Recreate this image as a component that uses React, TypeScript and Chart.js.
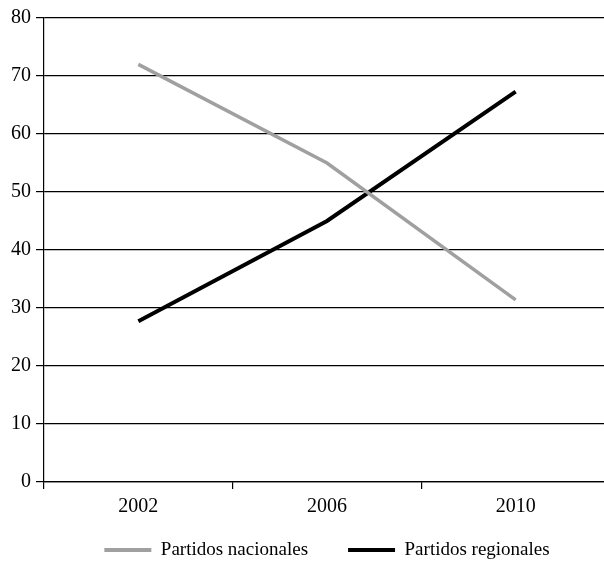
import React, { useEffect, useRef } from "react";
import { Chart, registerables } from "chart.js";

Chart.register(...registerables);

const years = ["2002", "2006", "2010"];
const nacionales = [72, 55, 31.4];
const regionales = [27.7, 45, 67.3];
const yTicks = [0, 10, 20, 30, 40, 50, 60, 70, 80];

const FONT = "'Liberation Serif', 'DejaVu Serif', serif";

// The x axis and the legend are packed tightly; let their text run below
// their layout boxes instead of being clipped.
const looseClip = {
  id: "looseClip",
  afterLayout(chart: any) {
    const lg = chart.legend;
    if (lg) lg.bottom = chart.height;
    const x = chart.scales.x;
    if (x) x.bottom = chart.height;
  },
};

export default function App() {
  const ref = useRef<HTMLCanvasElement | null>(null);

  useEffect(() => {
    const canvas = ref.current;
    if (!canvas) return;
    const chart = new Chart(canvas, {
      type: "line",
      data: {
        labels: years,
        datasets: [
          {
            label: "Partidos nacionales",
            data: nacionales,
            borderColor: "#a0a0a0",
            backgroundColor: "#a0a0a0",
            borderWidth: 3.5,
            pointRadius: 0,
            tension: 0,
          },
          {
            label: "Partidos regionales",
            data: regionales,
            borderColor: "#000000",
            backgroundColor: "#000000",
            borderWidth: 4,
            pointRadius: 0,
            tension: 0,
          },
        ],
      },
      options: {
        animation: false,
        responsive: false,
        devicePixelRatio: 1,
        layout: { padding: { top: 18, left: 0, right: 0, bottom: 10.5 } },
        plugins: {
          tooltip: { enabled: false },
          legend: {
            position: "bottom",
            fullSize: false,
            maxHeight: 50,
            labels: {
              boxWidth: 47,
              boxHeight: 4,
              padding: 40,
              color: "#000",
              font: { family: FONT, size: 19 },
              generateLabels: (c: any) =>
                Chart.defaults.plugins.legend.labels
                  .generateLabels(c)
                  .map((item: any) => ({ ...item, lineWidth: 0 })),
            },
          },
        },
        scales: {
          x: {
            type: "category",
            offset: true,
            afterFit: (scale: any) => {
              scale.height = 18.5;
            },
            grid: {
              offset: true,
              drawOnChartArea: false,
              drawTicks: true,
              tickLength: 7,
              color: "#000",
              lineWidth: 1.2,
            },
            border: { display: true, color: "#000", width: 1.2 },
            ticks: {
              color: "#000",
              padding: 6,
              font: { family: FONT, size: 20 },
            },
          },
          y: {
            min: 0,
            max: 80,
            afterFit: (scale: any) => {
              scale.width = 44;
            },
            afterBuildTicks: (scale: any) => {
              scale.ticks = yTicks.map((v) => ({ value: v }));
            },
            grid: {
              color: "#000",
              lineWidth: 1.2,
              tickLength: 8,
              drawTicks: true,
            },
            border: { display: true, color: "#000", width: 1.2 },
            ticks: {
              color: "#000",
              padding: 5,
              font: { family: FONT, size: 20 },
            },
          },
        },
      },
      plugins: [looseClip],
    });
    return () => chart.destroy();
  }, []);

  return (
    <div
      style={{
        position: "absolute",
        left: 0,
        top: 0,
        width: 604,
        height: 561,
        overflow: "hidden",
        background: "#fff",
      }}
    >
      <canvas ref={ref} width={610} height={561} style={{ display: "block" }} />
    </div>
  );
}
